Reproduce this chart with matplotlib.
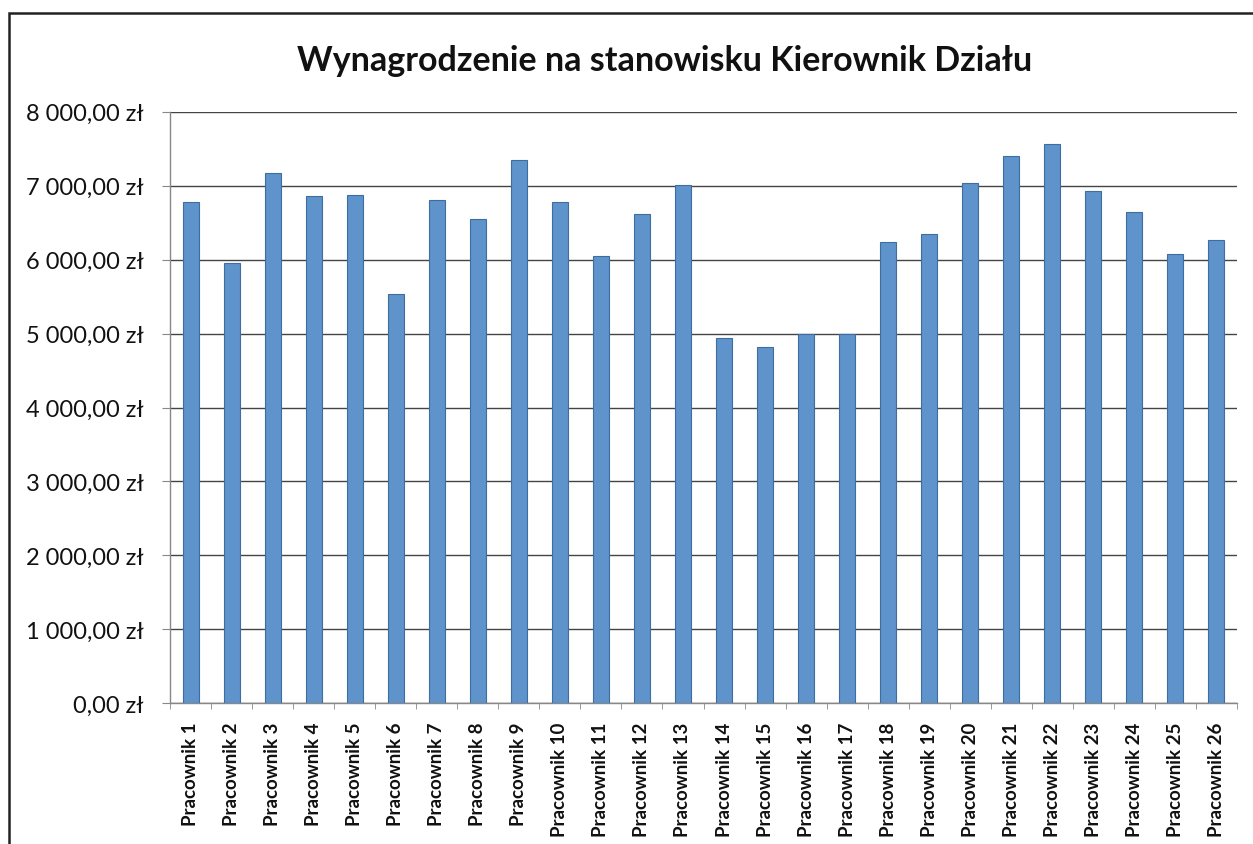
import matplotlib
matplotlib.use("Agg")
import matplotlib.pyplot as plt
from matplotlib.patches import Rectangle
from matplotlib.ticker import FuncFormatter
import numpy as np

# dane
pracownicy = ["Pracownik %d" % i for i in range(1, 27)]
wynagrodzenie = [6780, 5950, 7170, 6855, 6880, 5535, 6805, 6545, 7350, 6780,
                 6055, 6615, 7005, 4940, 4815, 5000, 4990, 6235, 6340, 7040,
                 7395, 7560, 6930, 6650, 6080, 6265]
y_ticks = [0, 1000, 2000, 3000, 4000, 5000, 6000, 7000, 8000]

W, H = 1253, 845
fig = plt.figure(figsize=(W / 100, H / 100), dpi=100)

# ramka wykresu (wychodzi poza prawy i dolny brzeg)
fig.patches.append(Rectangle((9 / W, -0.05), 1.1, 1 - 14 / H + 0.05,
                             transform=fig.transFigure, fill=False,
                             edgecolor="#222222", linewidth=1.8))

ax = fig.add_axes([170 / W, 1 - 704.3 / H, (1237 - 170) / W, (704.3 - 112.7) / H])

x = np.arange(len(pracownicy))
ax.bar(x, wynagrodzenie, width=0.39, color="#5f93cb", edgecolor="#3e6e9e",
       linewidth=0.8, zorder=3)

ax.set_xlim(-0.5, len(pracownicy) - 0.5)
ax.set_ylim(0, 8000)
ax.set_yticks(y_ticks)
ax.yaxis.set_major_formatter(FuncFormatter(
    lambda v, p: ("{:,.2f}".format(v)).replace(",", " ").replace(".", ",") + " zł"))
ax.grid(axis="y", color="#444444", linewidth=1.0, zorder=0)

for s in ["top", "right"]:
    ax.spines[s].set_visible(False)
for s in ["left", "bottom"]:
    ax.spines[s].set_color("#888888")
    ax.spines[s].set_linewidth(1.0)

ax.tick_params(axis="y", length=6, color="#888888", pad=13,
               labelsize=17, labelcolor="#111111")
for lab in ax.get_yticklabels():
    lab.set_family(["Lato", "DejaVu Sans"])

ax.set_xticks(x)
ax.set_xticks(np.arange(-0.5, len(pracownicy), 1), minor=True)
ax.tick_params(axis="x", which="major", length=0, pad=13)
ax.tick_params(axis="x", which="minor", length=4, color="#888888")
ax.set_xticklabels(pracownicy, rotation=90, fontsize=13.5, fontweight="bold",
                   family=["Liberation Sans Narrow", "Lato", "DejaVu Sans"],
                   color="#111111", va="top")

fig.text(665 / W, 1 - 61 / H, "Wynagrodzenie na stanowisku Kierownik Działu",
         ha="center", va="center", fontsize=24.5, fontweight="bold",
         family=["Lato", "DejaVu Sans"], color="#111111")

fig.savefig("out.png", dpi=100)
